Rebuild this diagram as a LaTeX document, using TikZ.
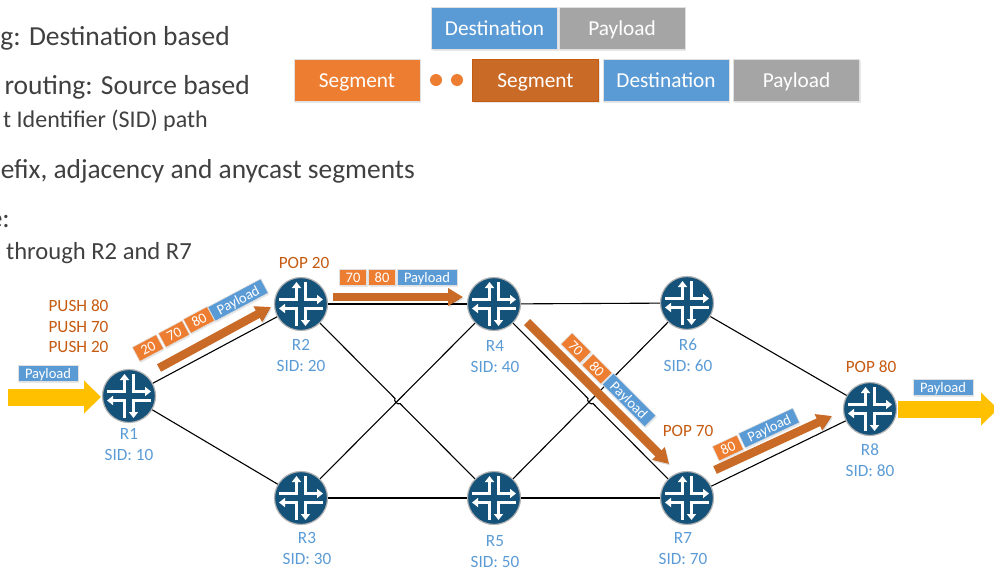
\documentclass[tikz,border=0pt]{standalone}
\usepackage{fontspec}
\setmainfont{Carlito}
\usetikzlibrary{arrows.meta,calc,shadows}
\definecolor{orangeA}{HTML}{ED7D31}
\definecolor{orangeB}{HTML}{C96A27}
\definecolor{orangeT}{HTML}{C55A11}
\definecolor{blueA}{HTML}{5B9BD5}
\definecolor{greyA}{HTML}{A5A5A5}
\definecolor{navyA}{HTML}{14527A}
\definecolor{textA}{HTML}{404040}
\definecolor{yellowA}{HTML}{FFC000}
\newcommand{\fs}[1]{\fontsize{#1}{#1}\selectfont}
\tikzset{
  softshadow/.style={drop shadow={opacity=.18,shadow xshift=1pt,shadow yshift=-1.5pt}},
  routerbase/.style={circle,draw=black!30,line width=1.2pt,fill=navyA,minimum size=53pt,inner sep=0pt},
  rarm/.style={white,line width=3.6pt,-{Triangle[width=9pt,length=6pt]}},
  link/.style={black,line width=1.1pt},
  topbox/.style={draw=black!12,line width=1pt,text=white,minimum width=126pt,minimum height=42pt,inner sep=0pt,font=\fs{21.3},text height=14pt,text depth=0pt,softshadow},
  pkt/.style={draw=black!12,line width=.6pt,text=white,minimum height=16pt,inner sep=0pt,font=\fs{14.5},text height=10pt,text depth=0pt,softshadow},
  pktn/.style={pkt,fill=orangeA,minimum width=27pt},
  pktp/.style={pkt,fill=blueA,minimum width=60pt},
  heading/.style={text=textA,anchor=base east,inner sep=0pt},
  rlabel/.style={text=blueA,font=\fs{17.2},align=center,inner sep=0pt,anchor=north},
  oplabel/.style={text=orangeT,font=\fs{17.2},align=center,inner sep=0pt},
  flowarrow/.style={orangeB,line width=8.5pt,-{Triangle[width=17pt,length=15pt]},preaction={draw=black,draw opacity=.12,transform canvas={xshift=1pt,yshift=-1.5pt}}},
  inout/.style={yellowA,line width=17pt,-{Triangle[width=32pt,length=17pt]}},
  dotm/.style={circle,fill=orangeA,minimum size=12pt,inner sep=0pt},
  pics/router/.style={code={
    \draw[rarm] (-22,-4.5) -- (-4.5,-4.5) -- (-4.5,-22);
    \draw[rarm] (4.5,-22) -- (4.5,-4.5) -- (22,-4.5);
    \draw[rarm] (22,4.5) -- (4.5,4.5) -- (4.5,22);
    \draw[rarm] (-4.5,22) -- (-4.5,4.5) -- (-22,4.5);
  }}
}
\begin{document}
\begin{tikzpicture}[x=1pt,y=-1pt]
\useasboundingbox (0,0) rectangle (994,568);
\clip (0,0) rectangle (994,568);
% headings
\node[heading,font=\fs{27.5}] (h1) at (230,45) {ng: Destination based};
\node[heading,font=\fs{27.5}] (h2) at (250,94) {routing: Source based};
\node[heading,font=\fs{24}] (h3) at (208,127) {t Identifier (SID) path};
\node[heading,font=\fs{27.4}] (h4) at (415,178) {efix, adjacency and anycast segments};
\node[heading,font=\fs{27.5}] (h5) at (10,227) {e:};
\node[heading,font=\fs{24.6}] (h6) at (192,259) {through R2 and R7};
% top packets
\node[topbox,fill=blueA] (d1) at (494.5,28.5) {Destination};
\node[topbox,fill=greyA] (p1) at (622,28.5) {Payload};
\node[topbox,fill=orangeA] (s1) at (357,80) {Segment};
\node[dotm] (m1) at (436,80) {};
\node[dotm] (m2) at (457,80) {};
\node[topbox,fill=orangeB,draw=orangeT] (s2) at (535.5,80) {Segment};
\node[topbox,fill=blueA] (d2) at (666,80) {Destination};
\node[topbox,fill=greyA] (p2) at (796.5,80) {Payload};
% routers
\node[routerbase] (R1) at (129,396) {};
\node[routerbase] (R2) at (301,304) {};
\node[routerbase] (R3) at (301,498) {};
\node[routerbase] (R4) at (494,304) {};
\node[routerbase] (R5) at (494,498) {};
\node[routerbase] (R6) at (687,303) {};
\node[routerbase] (R7) at (687,498) {};
\node[routerbase] (R8) at (870,409) {};
% links
\draw[link] (R1) -- (R2);
\draw[link] (R1) -- (R3);
\draw[link] (R2) -- (R4);
\draw[link] (R2) -- ($(R2)!.487!(R5)$) to[bend right=90] ($(R2)!.513!(R5)$) -- (R5);
\draw[link] (R3) -- (R4);
\draw[link] (R3) -- (R5);
\draw[link] (R4) -- (R6);
\draw[link] (R4) -- ($(R4)!.487!(R7)$) to[bend right=90] ($(R4)!.513!(R7)$) -- (R7);
\draw[link] (R5) -- (R6);
\draw[link] (R5) -- (R7);
\draw[link] (R6) -- (R8);
\draw[link] (R7) -- (R8);
\foreach \r in {R1,R2,R3,R4,R5,R6,R7,R8} {\pic at (\r) {router};}
% router labels
\node[rlabel] (l1) at (129,428.5) {R1\\[3.6pt]SID: 10};
\node[rlabel] (l2) at (301,339) {R2\\[3.6pt]SID: 20};
\node[rlabel] (l3) at (307,532.5) {R3\\[3.6pt]SID: 30};
\node[rlabel] (l4) at (495,340.5) {R4\\[3.6pt]SID: 40};
\node[rlabel] (l5) at (495,535.5) {R5\\[3.6pt]SID: 50};
\node[rlabel] (l6) at (688,338.5) {R6\\[3.6pt]SID: 60};
\node[rlabel] (l7) at (683,532.5) {R7\\[3.6pt]SID: 70};
\node[rlabel] (l8) at (870,444) {R8\\[3.6pt]SID: 80};
% operations
\node[oplabel] (o1) at (78.5,326.5) {PUSH 80\\[3.3pt]PUSH 70\\[3.3pt]PUSH 20};
\node[oplabel] (o2) at (304,263) {POP 20};
\node[oplabel] (o3) at (688,431) {POP 70};
\node[oplabel] (o4) at (871,367) {POP 80};
% flow arrows
\coordinate (a1s) at (159,368); \coordinate (a1e) at (271,307);
\coordinate (a2s) at (333,297); \coordinate (a2e) at (463,297);
\coordinate (a3s) at (527,322); \coordinate (a3e) at (669,464);
\coordinate (a4s) at (715,470); \coordinate (a4e) at (832,416);
\coordinate (y1s) at (8,397);   \coordinate (y1e) at (101,397);
\coordinate (y2s) at (898,409); \coordinate (y2e) at (998,409);
\draw[flowarrow] (a1s) -- (a1e);
\draw[flowarrow] (a2s) -- (a2e);
\draw[flowarrow] (a3s) -- (a3e);
\draw[flowarrow] (a4s) -- (a4e);
\draw[inout] (y1s) -- (y1e);
\draw[inout] (y2s) -- (y2e);
% packets on the hops
\node[pktp] (py) at (48,373) {Payload};
\node[pktp] (pz) at (943,387) {Payload};
\node[pktn,rotate=28] (b1) at (148,348) {20};
\node[pktn,rotate=28] (b2) at (174,334) {70};
\node[pktn,rotate=28] (b3) at (199,320) {80};
\node[pktp,rotate=28] (b4) at (238,300) {Payload};
\node[pktn] (c1) at (353,277) {70};
\node[pktn] (c2) at (382,277) {80};
\node[pktp] (c3) at (427,277) {Payload};
\node[pktn,rotate=-45] (e1) at (576,348) {70};
\node[pktn,rotate=-45] (e2) at (597,369) {80};
\node[pktp,rotate=-45] (e3) at (629,400) {Payload};
\node[pktn,rotate=25] (f1) at (728,448) {80};
\node[pktp,rotate=25] (f2) at (769,428) {Payload};
\end{tikzpicture}
\end{document}
